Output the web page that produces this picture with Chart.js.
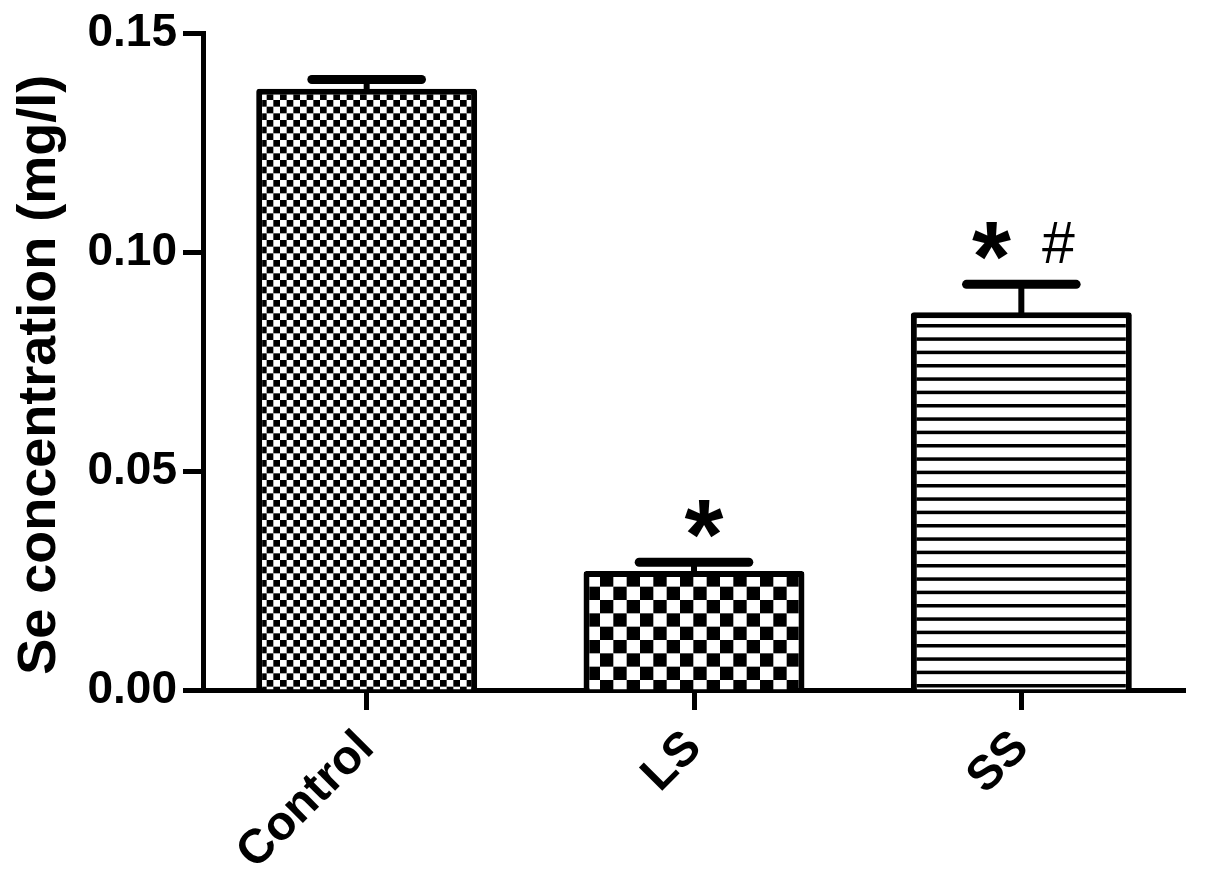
<!DOCTYPE html>
<html>
<head>
<meta charset="utf-8">
<script src="https://cdn.jsdelivr.net/npm/chart.js@4.4.1/dist/chart.umd.min.js"></script>
<style>
  html, body { margin: 0; padding: 0; background: #fff; }
</style>
</head>
<body>
<canvas id="chart" width="1205" height="889"></canvas>
<script>
var groups = ["Control", "LS", "SS"];
var meanSe = [0.1374, 0.0272, 0.0863];
var semSe = [0.0021, 0.0020, 0.0064];
var starMarks = ["", "*", "*"];
var hashMarks = ["", "", "#"];
var yTicks = [0, 0.05, 0.10, 0.15];
var yTitle = "Se concentration (mg/l)";

var FONT = "'Liberation Sans', Arial, sans-serif";

// fill patterns as in the original figure
function makePattern(kind) {
  var c = document.createElement('canvas');
  var g = c.getContext('2d');
  if (kind === 'fine' || kind === 'coarse') {
    var n = 6, cell = kind === 'fine' ? 20 / 3 : 40 / 3;
    c.width = c.height = Math.round(cell * n);
    g.fillStyle = '#fff';
    g.fillRect(0, 0, c.width, c.height);
    g.fillStyle = '#000';
    for (var i = 0; i < n; i++) {
      for (var j = 0; j < n; j++) {
        if ((i + j) % 2 === 0) g.fillRect(i * cell, j * cell, cell, cell);
      }
    }
  } else {
    c.width = 40; c.height = 40;
    g.fillStyle = '#fff';
    g.fillRect(0, 0, 40, 40);
    g.fillStyle = '#000';
    for (var k = 0; k < 3; k++) g.fillRect(0, k * 40 / 3 + 4, 40, 3.5);
  }
  return document.getElementById('chart').getContext('2d').createPattern(c, 'repeat');
}

var fills = [makePattern('fine'), makePattern('coarse'), makePattern('lines')];

var errorBars = {
  id: 'errorBars',
  afterDatasetsDraw: function (chart) {
    var ctx = chart.ctx;
    var y = chart.scales.y;
    var bars = chart.getDatasetMeta(0).data;
    ctx.save();
    ctx.strokeStyle = '#000';
    ctx.fillStyle = '#000';
    bars.forEach(function (bar, i) {
      var top = y.getPixelForValue(meanSe[i] + semSe[i]);
      var half = bar.width * 0.248;
      ctx.lineWidth = 6;
      ctx.lineCap = 'butt';
      ctx.beginPath();
      ctx.moveTo(bar.x, bar.y + 3);
      ctx.lineTo(bar.x, top);
      ctx.stroke();
      ctx.lineWidth = 9;
      ctx.lineCap = 'round';
      ctx.beginPath();
      ctx.moveTo(bar.x - half, top);
      ctx.lineTo(bar.x + half, top);
      ctx.stroke();

      // significance marks
      ctx.textAlign = 'center';
      ctx.textBaseline = 'alphabetic';
      var hasHash = hashMarks[i] !== '';
      if (starMarks[i]) {
        ctx.font = 'bold 100px ' + FONT;
        var m = ctx.measureText(starMarks[i]);
        ctx.fillText(starMarks[i], bar.x + (hasHash ? -30 : 10), top - 62 + m.actualBoundingBoxAscent);
      }
      if (hasHash) {
        ctx.font = '59px ' + FONT;
        var mh = ctx.measureText(hashMarks[i]);
        ctx.fillText(hashMarks[i], bar.x + 37, top - 62 + mh.actualBoundingBoxAscent);
      }
    });
    ctx.restore();
  }
};

// y axis title, drawn a little below the plot centre like the original
var axisTitle = {
  id: 'axisTitle',
  afterDraw: function (chart) {
    var ctx = chart.ctx;
    var area = chart.chartArea;
    ctx.save();
    ctx.translate(55, (area.top + area.bottom) / 2 + 13);
    ctx.rotate(-Math.PI / 2);
    ctx.font = 'bold 54px ' + FONT;
    ctx.fillStyle = '#000';
    ctx.textAlign = 'center';
    ctx.textBaseline = 'alphabetic';
    ctx.fillText(yTitle, 0, 0);
    ctx.restore();
  }
};

new Chart(document.getElementById('chart'), {
  type: 'bar',
  data: {
    labels: groups,
    datasets: [{
      data: meanSe,
      backgroundColor: fills,
      borderColor: '#000',
      borderWidth: 6,
      borderRadius: 3,
      barPercentage: 0.675,
      categoryPercentage: 1
    }]
  },
  options: {
    responsive: false,
    animation: false,
    devicePixelRatio: 1,
    layout: { padding: { top: 33, right: 20, left: 0, bottom: 0 } },
    plugins: { legend: { display: false }, tooltip: { enabled: false } },
    scales: {
      x: {
        offset: true,
        grid: { display: true, offset: false, drawOnChartArea: false, tickLength: 20, tickWidth: 5, tickColor: '#000' },
        border: { display: true, color: '#000', width: 5 },
        ticks: {
          color: '#000',
          font: { family: FONT, weight: 'bold', size: 48 },
          minRotation: 45,
          maxRotation: 45,
          padding: 10
        },
        afterFit: function (s) { s.height = 199; }
      },
      y: {
        min: 0,
        max: 0.15,
        afterBuildTicks: function (s) { s.ticks = yTicks.map(function (v) { return { value: v }; }); },
        grid: { display: true, drawOnChartArea: false, tickLength: 20, tickWidth: 5, tickColor: '#000' },
        border: { display: true, color: '#000', width: 5 },
        ticks: {
          color: '#000',
          font: { family: FONT, weight: 'bold', size: 46 },
          padding: 6,
          callback: function (v) { return Number(v).toFixed(2); }
        },
        afterFit: function (s) { s.width = 203; }
      }
    }
  },
  plugins: [errorBars, axisTitle]
});
</script>
</body>
</html>
